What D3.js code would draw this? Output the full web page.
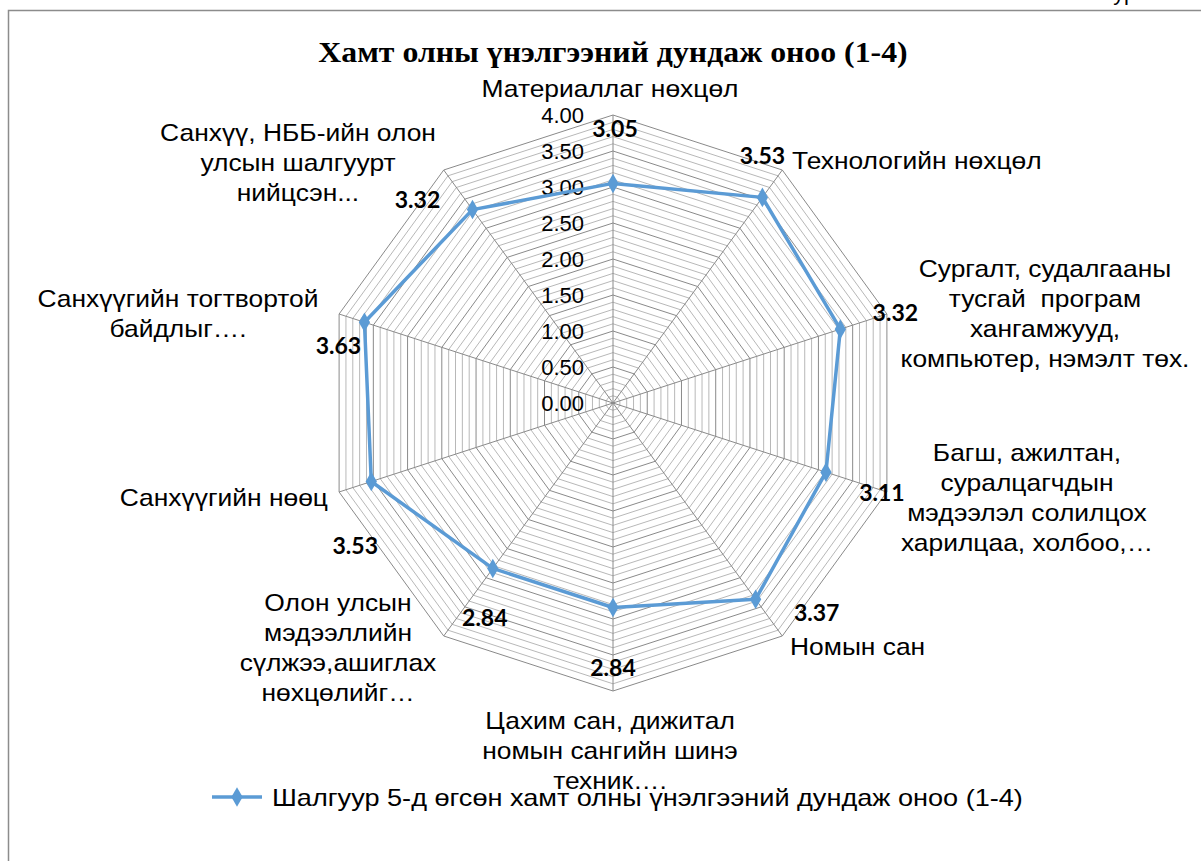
<!DOCTYPE html>
<html>
<head>
<meta charset="utf-8">
<script src="https://cdn.jsdelivr.net/npm/d3@7"></script>
<style>
  body { margin: 0; background: #fff; }
  svg { display: block; }
  text { white-space: pre; }
</style>
</head>
<body>
<div id="chart"></div>
<script>
// data
var categories = [
  ["Материаллаг нөхцөл"],
  ["Технологийн нөхцөл"],
  ["Сургалт, судалгааны", "тусгай  програм", "хангамжууд,", "компьютер, нэмэлт төх."],
  ["Багш, ажилтан,", "суралцагчдын", "мэдээлэл солилцох", "харилцаа, холбоо,…"],
  ["Номын сан"],
  ["Цахим сан, дижитал", "номын сангийн шинэ", "техник…."],
  ["Олон улсын", "мэдээллийн", "сүлжээ,ашиглах", "нөхцөлийг…"],
  ["Санхүүгийн нөөц"],
  ["Санхүүгийн тогтвортой", "байдлыг…."],
  ["Санхүү, НББ-ийн олон", "улсын шалгуурт", "нийцсэн..."]
];
var values = [3.05, 3.53, 3.32, 3.11, 3.37, 2.84, 2.84, 3.53, 3.63, 3.32];
var tickValues = [0, 0.5, 1, 1.5, 2, 2.5, 3, 3.5, 4];
var seriesName = "Шалгуур 5-д өгсөн хамт олны үнэлгээний дундаж оноо (1-4)";
var title = "Хамт олны үнэлгээний дундаж оноо (1-4)";

// layout only: where the category labels sit, and how far value labels sit from their point
var catLayout = [
  [610, 88, "middle"], [792, 160, "start"], [1045, 268, "middle"], [1027, 452, "middle"],
  [790, 646, "start"], [610, 720, "middle"], [338, 602, "middle"], [328, 497, "end"],
  [178, 298, "middle"], [298, 132, "middle"]
];
var valueOffset = [[2, -55], [0, -42], [55, -16], [56, 21], [61, 13], [0, 60], [-8, 49], [-16, 64], [-26, 23], [-55, -10]];

var W = 1201, H = 861, cx = 613, cy = 403, R = 288;
var blue = "#5B9BD5";
var sans = "Arial, 'Liberation Sans', sans-serif";
var wide = 1.1; // the source's Cyrillic runs wider than Liberation Sans

var svg = d3.select("#chart").append("svg").attr("width", W).attr("height", H);

// chart frame (cut by the page edge)
svg.append("path").attr("d", "M8.5," + H + "V10.5H" + W)
  .attr("fill", "none").attr("stroke", "#8c8c8c").attr("stroke-width", 1.5);
svg.append("text").attr("x", 1100).attr("y", 0).attr("font-family", sans)
  .attr("font-size", 22).text("Зураг");

var r = d3.scaleLinear().domain([0, 4]).range([0, R]);
var angle = d3.scaleLinear().domain([0, categories.length]).range([0, 2 * Math.PI]);
function pt(i, v) {
  var a = angle(i);
  return [cx + r(v) * Math.sin(a), cy - r(v) * Math.cos(a)];
}

var g = svg.append("g");

// rings every 0.1, darker every 0.5
var rings = d3.range(1, 41).map(function(d) { return d / 10; });
g.selectAll("path.ring").data(rings).enter().append("path")
  .attr("class", "ring")
  .attr("d", function(v) {
    return d3.line()(categories.map(function(c, i) { return pt(i, v); })) + "Z";
  })
  .attr("fill", "none")
  .attr("stroke", function(v) { return Math.abs(v * 2 - Math.round(v * 2)) < 1e-6 ? "#8a8a8a" : "#b8b8b8"; })
  .attr("stroke-width", 1);

// spokes
g.selectAll("line.spoke").data(categories).enter().append("line")
  .attr("x1", cx).attr("y1", cy)
  .attr("x2", function(c, i) { return pt(i, 4)[0]; })
  .attr("y2", function(c, i) { return pt(i, 4)[1]; })
  .attr("stroke", "#8a8a8a").attr("stroke-width", 1);

// radial tick labels
g.selectAll("text.tick").data(tickValues).enter().append("text")
  .attr("x", cx - 29).attr("y", function(v) { return cy - r(v); })
  .attr("dy", "0.36em").attr("text-anchor", "end")
  .attr("font-family", sans).attr("font-size", 22).attr("fill", "#000")
  .text(function(v) { return d3.format(".2f")(v); });

// series line
var pts = values.map(function(v, i) { return pt(i, v); });
g.append("path").attr("d", d3.line()(pts) + "Z")
  .attr("fill", "none").attr("stroke", blue).attr("stroke-width", 3.5)
  .attr("stroke-linejoin", "round");

var diamond = d3.symbol().type(d3.symbolDiamond).size(110);
g.selectAll("path.mark").data(pts).enter().append("path")
  .attr("d", diamond).attr("fill", blue)
  .attr("transform", function(p) { return "translate(" + p[0] + "," + p[1] + ")"; });

// value labels
g.selectAll("text.val").data(values).enter().append("text")
  .attr("x", function(v, i) { return pts[i][0] + valueOffset[i][0]; })
  .attr("y", function(v, i) { return pts[i][1] + valueOffset[i][1]; })
  .attr("dy", "0.36em").attr("text-anchor", "middle")
  .attr("font-family", "Lato, 'Open Sans', sans-serif").attr("font-weight", "bold")
  .attr("font-size", 23).attr("fill", "#000")
  .text(function(v) { return d3.format(".2f")(v); });

// category labels
categories.forEach(function(lines, i) {
  var t = g.append("g")
    .attr("transform", "translate(" + catLayout[i][0] + "," + catLayout[i][1] + ") scale(" + wide + ",1)")
    .append("text").attr("font-family", sans).attr("font-size", 24)
    .attr("text-anchor", catLayout[i][2]).attr("fill", "#000");
  lines.forEach(function(s, k) {
    t.append("tspan").attr("x", 0).attr("y", k * 30).attr("dy", "0.36em").text(s);
  });
});

// title
svg.append("g").attr("transform", "translate(613,62) scale(1.06,1)")
  .append("text").attr("text-anchor", "middle")
  .attr("font-family", "'Times New Roman', 'Liberation Serif', serif")
  .attr("font-weight", "bold").attr("font-size", 30).text(title);

// legend
var lg = svg.append("g").attr("transform", "translate(212,797)");
lg.append("line").attr("x1", 0).attr("x2", 50).attr("stroke", blue).attr("stroke-width", 3.5);
lg.append("path").attr("d", diamond).attr("fill", blue).attr("transform", "translate(25,0)");
lg.append("g").attr("transform", "translate(60,0) scale(1.13,1)")
  .append("text").attr("dy", "0.36em").attr("font-family", sans)
  .attr("font-size", 24).text(seriesName);
</script>
</body>
</html>
